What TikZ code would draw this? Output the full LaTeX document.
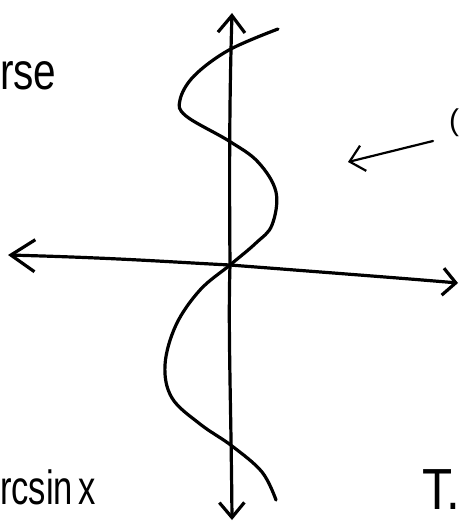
\documentclass[tikz,border=0pt]{standalone}
\usepackage{fontspec}
\setmainfont{Liberation Sans}
\usetikzlibrary{arrows.meta}

\begin{document}
\begin{tikzpicture}[x=1pt,y=-1pt,line cap=round,line join=round,
		pen/.style={line width=3.2pt},
		scrawl/.style={anchor=base west,inner sep=0}]
		\useasboundingbox (0,0) rectangle (461,524);
		% axes
		\coordinate (ytop) at (232,13);
		\coordinate (ybot) at (232,520);
		\coordinate (xleft) at (8,255);
		\coordinate (xright) at (458,283);
		\coordinate (o) at (230,265);
		\draw[pen,{Straight Barb[length=24pt,width=32pt]}-{Straight Barb[length=13pt,width=27pt]}] (xleft) .. controls (120,258) and (170,262) .. (o) .. controls (320,272) and (400,278) .. (xright);
		\draw[pen,{Straight Barb[length=15pt,width=25pt]}-{Straight Barb[length=17pt,width=27pt]}] (ybot) .. controls (231,400) and (228,330) .. (o) .. controls (229,150) and (230,80) .. (ytop);
		% the curve
		\draw[pen] plot[smooth,tension=0.6] coordinates {(278,29) (229,50) (194,76) (180,100) (186,116) (229,141) (258,162) (276,192) (272,225) (256,243) (230,265) (200,290) (176,325) (165,365) (172,398) (200,424) (232,446) (262,472) (276,500)};
		% pointer arrow
		\coordinate (ptail) at (433,141);
		\coordinate (ptip) at (348,162);
		\draw[line width=2.2pt,-{Straight Barb[length=14pt,width=26pt]}] (ptail) -- (ptip);
		% labels
		\node[scrawl,xscale=0.78,font=\fontsize{52}{52}\selectfont] (title) at (0,90) {rse};
		\node[scrawl,xscale=0.72,font=\fontsize{48}{48}\selectfont] (name) at (0,504) {rcsin\,x};
		\node[scrawl,xscale=0.85,font=\fontsize{58}{58}\selectfont] (tee) at (422,509) {T.};
		\node[scrawl,font=\fontsize{30}{30}\selectfont] (paren) at (449,130) {(};
\end{tikzpicture}
\end{document}
